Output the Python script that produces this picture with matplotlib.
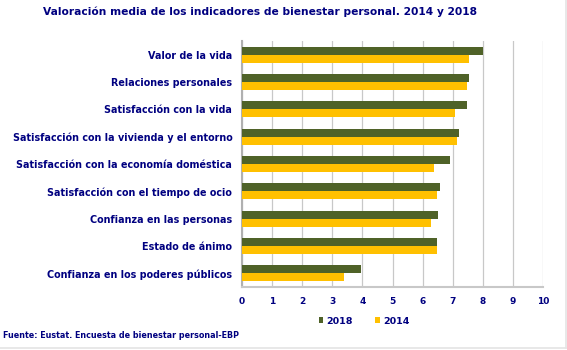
import matplotlib.pyplot as plt
import numpy as np
from matplotlib.lines import Line2D

categories = ['Valor de la vida', 'Relaciones personales', 'Satisfacción con la vida',
              'Satisfacción con la vivienda y el entorno', 'Satisfacción con la economía doméstica',
              'Satisfacción con el tiempo de ocio', 'Confianza en las personas',
              'Estado de ánimo', 'Confianza en los poderes públicos']
v2018 = [8.0, 7.55, 7.48, 7.2, 6.91, 6.58, 6.51, 6.47, 3.95]
v2014 = [7.53, 7.46, 7.09, 7.15, 6.38, 6.47, 6.29, 6.49, 3.38]
xticks = list(range(0, 11))

navy = '#000080'
c2018 = '#4F6228'
c2014 = '#FFC000'

W, H = 567, 350
fig = plt.figure(figsize=(W / 100, H / 100), dpi=100)
plt.rcParams['font.family'] = ['DejaVu Sans']

# plot area in pixels: x 242..543, y 41..287
ax = fig.add_axes([242 / W, 1 - 287 / H, (543 - 242) / W, (287 - 41) / H])

y = np.arange(len(categories))
h = 0.29
ax.barh(y - h / 2, v2018, height=h, color=c2018, zorder=3, label='2018')
ax.barh(y + h / 2, v2014, height=h, color=c2014, zorder=3, label='2014')

ax.set_xlim(0, 10)
ax.set_ylim(len(categories) - 0.5, -0.5)
ax.set_xticks(xticks)
ax.set_xticklabels([str(t) for t in xticks], color=navy, fontsize=6.5, fontweight='bold')
ax.set_yticks(y)
ax.set_yticklabels(categories, color=navy, fontsize=6.9, fontweight='bold')
ax.tick_params(axis='both', length=0, pad=7)
ax.grid(axis='x', color='#C8C8C8', linewidth=0.9, zorder=0)
for s in ['top', 'right']:
    ax.spines[s].set_visible(False)
ax.spines['left'].set_color('#B0B0B0')
ax.spines['left'].set_linewidth(1.5)
ax.spines['bottom'].set_color('#C8C8C8')
ax.spines['bottom'].set_linewidth(1.5)

fig.text(260 / W, 1 - 12 / H, 'Valoración media de los indicadores de bienestar personal. 2014 y 2018',
         ha='center', va='center', color=navy, fontsize=7.7, fontweight='bold')

leg = fig.legend(loc='center', bbox_to_anchor=(364 / W, 1 - 321 / H), ncol=2, frameon=False,
                 fontsize=6.8, handlelength=0.5, handleheight=0.5, columnspacing=2.4,
                 handletextpad=0.3, borderaxespad=0)
for t in leg.get_texts():
    t.set_color(navy)
    t.set_fontweight('bold')

fig.text(3 / W, 1 - 336 / H, 'Fuente: Eustat. Encuesta de bienestar personal-EBP',
         ha='left', va='center', color=navy, fontsize=5.8, fontweight='bold')

# light frame on right and bottom edges
fig.add_artist(Line2D([565.5 / W, 565.5 / W], [1 - 348 / H, 1], transform=fig.transFigure,
                      color='#E4E4E4', linewidth=1.2))
fig.add_artist(Line2D([0, 565.5 / W], [1 - 348 / H, 1 - 348 / H], transform=fig.transFigure,
                      color='#E4E4E4', linewidth=1.2))

fig.savefig('out.png', dpi=100)
